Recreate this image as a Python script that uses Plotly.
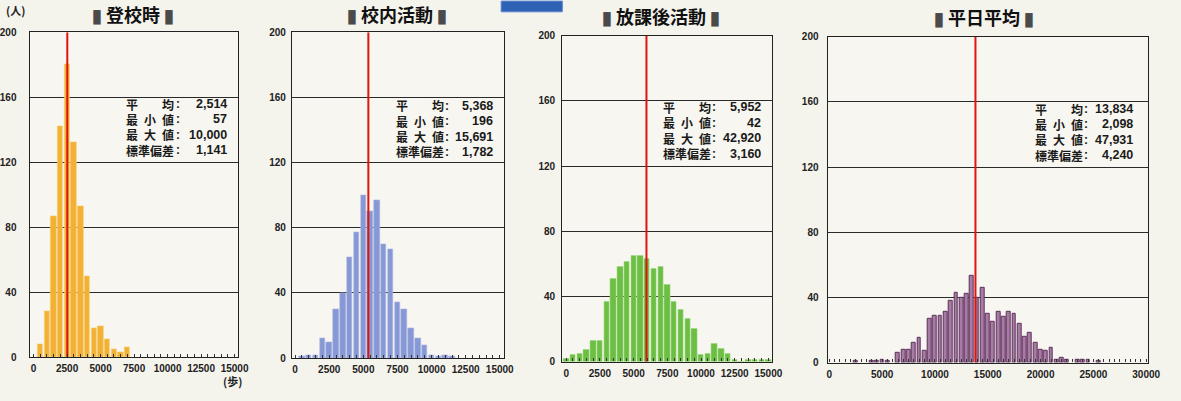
import plotly.graph_objects as go

W, H = 1181, 401

# ---------------- data ----------------
titles = ["登校時", "校内活動", "放課後活動", "平日平均"]

p1_bins = [500, 1000, 1500, 2000, 2500, 3000, 3500, 4000, 4500, 5000, 5500, 6000, 6500, 7000]
p1_counts = [8, 28, 87, 142, 180, 132, 93, 50, 18, 19, 11, 5, 3, 6]

p2_bins = [500, 1000, 1500, 2000, 2500, 3000, 3500, 4000, 4500, 5000, 5500, 6000,
           6500, 7000, 7500, 8000, 8500, 9000, 9500, 10000, 10500, 11000, 11500]
p2_counts = [1, 2, 2, 12, 10, 30, 40, 62, 77, 100, 90, 97,
             70, 67, 34, 30, 18, 12, 8, 2, 1, 2, 1]

p3_bins = [0, 500, 1000, 1500, 2000, 2500, 3000, 3500, 4000, 4500, 5000, 5500, 6000,
           6500, 7000, 7500, 8000, 8500, 9000, 9500, 10000, 10500, 11000, 11500,
           12000, 12500, 13000, 13500, 14000, 14500, 15000]
p3_counts = [2, 4, 5, 7, 13, 13, 37, 51, 58, 61, 65, 65, 63,
             57, 58, 47, 37, 32, 26, 20, 4, 5, 11, 8,
             5, 1, 0, 1, 1, 1, 1]

p4_bins = [2500, 4000, 4500, 5000, 5500, 6500, 7000, 7500, 8000, 8500, 9000, 9500,
           10000, 10500, 11000, 11500, 12000, 12500, 13000, 13500, 14000, 14500,
           15000, 15500, 16000, 16500, 17000, 17500, 18000, 18500, 19000, 19500,
           20000, 20500, 21000, 21500, 22000, 22500, 23500, 24000, 24500, 25500]
p4_counts = [1, 1, 1, 2, 1, 6, 8, 8, 12, 15, 7, 27,
             29, 29, 31, 38, 43, 40, 42, 53, 40, 46,
             30, 25, 31, 28, 31, 30, 24, 16, 18, 12,
             8, 7, 9, 2, 3, 2, 2, 2, 2, 1]

means = [2514, 5368, 5952, 13834]
mins = [57, 196, 42, 2098]
maxs = [10000, 15691, 42920, 47931]
sds = [1141, 1782, 3160, 4240]

y_ticks = [0, 40, 80, 120, 160, 200]
x_ticks_a = [0, 2500, 5000, 7500, 10000, 12500, 15000]
x_ticks_b = [0, 5000, 10000, 15000, 20000, 25000, 30000]
stat_labels = ["平　　均", "最\u2002小\u2002値", "最\u2002大\u2002値", "標準偏差"]

# ---------------- styling / layout ----------------
def fx(px):
    return px / W

def fy(py):
    return 1 - py / H

panels = [
    dict(bins=p1_bins, counts=p1_counts, color="#F2B134", line="#F7CF72", lw=0.6, bw=400,
         xpx=(26, 237), ypx=(28, 362), xr=[-295, 15240], xt=x_ticks_a, stand=10,
         tpos=(131, 9), stat=(122, 228, 102, 15.7)),
    dict(bins=p2_bins, counts=p2_counts, color="#8798D6", line="#AEB9E6", lw=0.6, bw=400,
         xpx=(292, 507), ypx=(28, 363), xr=[-225, 15320], xt=x_ticks_a, stand=3,
         tpos=(398, 9.5), stat=(395, 498, 103.7, 15.8)),
    dict(bins=p3_bins, counts=p3_counts, color="#6DBE45", line="#9BD77A", lw=0.6, bw=400,
         xpx=(566, 779), ypx=(31.7, 366.7), xr=[-290, 15300], xt=x_ticks_a, stand=4,
         tpos=(666, 11), stat=(666, 769, 105.3, 15.9)),
    dict(bins=p4_bins, counts=p4_counts, color="#A87AA6", line="#5A3159", lw=1, bw=360,
         xpx=(835, 1160), ypx=(32.7, 367.7), xr=[-160, 30200], xt=x_ticks_b, stand=6,
         tpos=(993, 12.5), stat=(1043, 1147, 107, 15.8)),
]

fig = go.Figure()
layout = dict(
    width=W, height=H, margin=dict(l=0, r=0, t=0, b=0),
    paper_bgcolor="#F4F3EC", plot_bgcolor="#F7F6F0",
    showlegend=False, bargap=0,
)

annotations = []
tickfont = dict(family="Liberation Sans, Arial, sans-serif", size=10, color="#222", weight="bold")
cjk = "Noto Sans CJK JP, sans-serif"
LABEL_FS = 12

for i, p in enumerate(panels):
    n = i + 1
    xa = "x" if n == 1 else f"x{n}"
    ya = "y" if n == 1 else f"y{n}"
    fig.add_trace(go.Bar(
        x=p["bins"], y=p["counts"], width=p["bw"],
        marker=dict(color=p["color"], line=dict(color=p["line"], width=p["lw"])),
        xaxis=xa, yaxis=ya, hoverinfo="x+y",
    ))
    fig.add_trace(go.Scatter(
        x=[means[i], means[i]], y=[0, 200], mode="lines",
        line=dict(color="#E0140E", width=2), xaxis=xa, yaxis=ya, hoverinfo="skip",
    ))
    layout["xaxis" if n == 1 else f"xaxis{n}"] = dict(
        domain=[fx(p["xpx"][0]), fx(p["xpx"][1])], range=p["xr"], anchor=ya,
        tickvals=p["xt"], ticktext=[str(v) for v in p["xt"]], tickfont=tickfont,
        showgrid=False, zeroline=False, showline=True, linecolor="#222", linewidth=1.3,
        mirror=True, ticks="", ticklabelstandoff=2,
        minor=dict(ticks="inside", ticklen=3, tickcolor="#333", tickwidth=1, dtick=500, tick0=0,
                   showgrid=False),
    )
    layout["yaxis" if n == 1 else f"yaxis{n}"] = dict(
        domain=[fy(p["ypx"][1]), fy(p["ypx"][0])], range=[0, 200], anchor=xa,
        tickvals=y_ticks, ticktext=[str(v) for v in y_ticks], tickfont=tickfont,
        showgrid=True, gridcolor="#2a2a2a", gridwidth=1.1, zeroline=False,
        showline=True, linecolor="#222", linewidth=1.3, mirror=True, ticks="",
        ticklabelstandoff=p["stand"],
    )
    # title
    annotations.append(dict(
        x=fx(p["tpos"][0]), y=fy(p["tpos"][1]), xref="paper", yref="paper",
        text=f'<span style="color:#4a4a4a">▮</span> {titles[i]} <span style="color:#4a4a4a">▮</span>',
        showarrow=False, xanchor="center", yanchor="middle",
        font=dict(family=cjk, size=18, color="#111", weight="bold"),
    ))
    # statistics box
    lx, rx, y0, dy = p["stat"]
    cx = lx + 4 * LABEL_FS + 6
    vals = [means[i], mins[i], maxs[i], sds[i]]
    for k in range(4):
        yy = fy(y0 + k * dy)
        annotations.append(dict(x=fx(lx), y=yy, xref="paper", yref="paper", text=stat_labels[k],
                                showarrow=False, xanchor="left", yanchor="middle",
                                font=dict(family=cjk, size=LABEL_FS, color="#1a1a1a", weight="bold")))
        annotations.append(dict(x=fx(cx), y=yy, xref="paper", yref="paper", text=":",
                                showarrow=False, xanchor="center", yanchor="middle",
                                font=dict(family="Liberation Sans, sans-serif", size=12, color="#1a1a1a", weight="bold")))
        annotations.append(dict(x=fx(rx), y=yy, xref="paper", yref="paper", text=f"{vals[k]:,}",
                                showarrow=False, xanchor="right", yanchor="middle",
                                font=dict(family="Liberation Sans, sans-serif", size=12.5, color="#1a1a1a", weight="bold")))

# unit labels
annotations.append(dict(x=fx(0), y=fy(5), xref="paper", yref="paper", text="(人)", showarrow=False,
                        xanchor="left", yanchor="middle",
                        font=dict(family=cjk, size=11, color="#222", weight="bold")))
annotations.append(dict(x=fx(232), y=fy(387), xref="paper", yref="paper", text="(歩)", showarrow=False,
                        xanchor="center", yanchor="middle",
                        font=dict(family=cjk, size=11, color="#222", weight="bold")))

layout["annotations"] = annotations
layout["shapes"] = [dict(type="rect", xref="paper", yref="paper",
                         x0=fx(504), x1=fx(566), y0=fy(7), y1=fy(-4),
                         fillcolor="#2F62B5", line=dict(color="#5B86CF", width=1))]
fig.update_layout(**layout)
fig.write_html("out.html", config={"displayModeBar": False},
               post_script="document.body.style.margin='0';document.body.style.overflow='hidden';")
